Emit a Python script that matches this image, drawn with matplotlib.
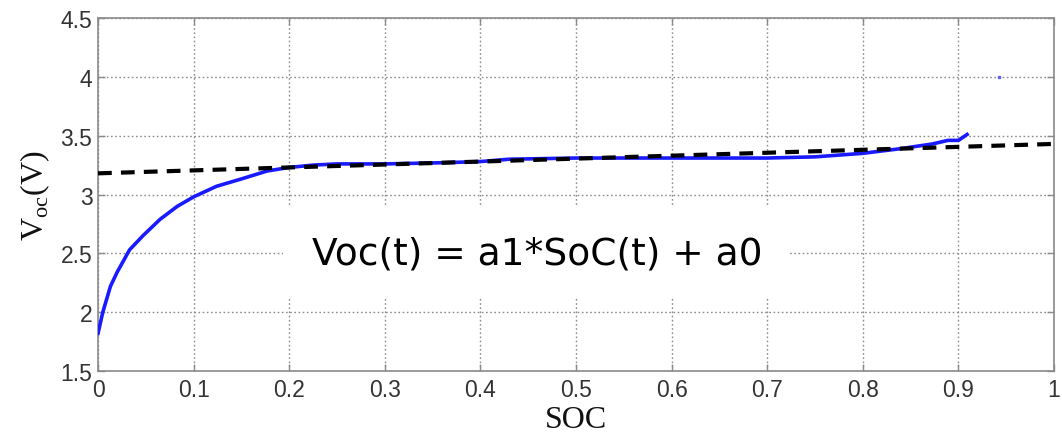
import matplotlib
matplotlib.use("Agg")
from matplotlib import pyplot as plt
import numpy as np

# measured open-circuit voltage vs state of charge
soc = [0.0, 0.005, 0.013, 0.02, 0.033, 0.047, 0.065, 0.083, 0.1, 0.124, 0.149,
       0.177, 0.2, 0.225, 0.25, 0.3, 0.36, 0.4, 0.43, 0.5, 0.56, 0.6, 0.7,
       0.75, 0.8, 0.84, 0.873, 0.889, 0.9, 0.909]
voc = [1.82, 2.0, 2.22, 2.34, 2.53, 2.65, 2.79, 2.90, 2.98, 3.07, 3.13,
       3.2, 3.23, 3.25, 3.26, 3.26, 3.27, 3.28, 3.30, 3.31, 3.31, 3.31, 3.31,
       3.32, 3.35, 3.39, 3.43, 3.46, 3.46, 3.51]

# stray point near (0.94, 4.0)
stray_soc = [0.9425]
stray_voc = [4.0]

# linear fit Voc = a1*SoC + a0
a0 = 3.18
a1 = 0.25
fit_soc = [0.0, 1.0]

xticks = [0, 0.1, 0.2, 0.3, 0.4, 0.5, 0.6, 0.7, 0.8, 0.9, 1]
xtick_labels = ["0", "0.1", "0.2", "0.3", "0.4", "0.5", "0.6", "0.7", "0.8", "0.9", "1"]
yticks = [1.5, 2, 2.5, 3, 3.5, 4, 4.5]
ytick_labels = ["1.5", "2", "2.5", "3", "3.5", "4", "4.5"]

fig = plt.figure(figsize=(10.62, 4.39), dpi=100)
ax = fig.add_axes([0.0923, 0.1526, 0.9002, 0.8041])

ax.plot(soc, voc, color="#1a1aff", linewidth=2.6, zorder=3)
ax.plot(stray_soc, stray_voc, "s", color="#6060ff", markersize=1.5, zorder=3)
fit_v = [a1 * s + a0 for s in fit_soc]
ax.plot(fit_soc, fit_v, color="black", linewidth=3, linestyle=(0, (3.3, 2.2)), zorder=4)

ax.set_xlim(0, 1)
ax.set_ylim(1.5, 4.5)
ax.set_xticks(xticks)
ax.set_xticklabels(xtick_labels)
ax.set_yticks(yticks)
ax.set_yticklabels(ytick_labels)

ax.set_axisbelow(True)
ax.grid(True, color="#8c8c8c", linestyle=(0, (1.2, 1.8)), linewidth=1.0)

for sp in ax.spines.values():
    sp.set_color("#8a8a8a")
    sp.set_linewidth(1.2)

ax.tick_params(direction="in", length=5, width=1, color="#8a8a8a",
               top=True, right=True, labelsize=16.5, labelcolor="#333333")
ax.tick_params(axis="x", pad=5)
ax.tick_params(axis="y", pad=4)
for lbl in ax.get_xticklabels() + ax.get_yticklabels():
    lbl.set_family("Liberation Sans")

ax.set_xlabel("SOC", family="Liberation Serif", fontsize=23, color="#111111", labelpad=3)
ax.set_ylabel(r"V$_{\mathregular{oc}}$(V)", family="Liberation Serif", fontsize=23,
              color="#111111", labelpad=6)

ax.text(0.459, 2.50, "Voc(t) = a1*SoC(t) + a0", fontsize=27, family="DejaVu Sans",
        ha="center", va="center", color="black", zorder=2,
        bbox=dict(facecolor="white", edgecolor="none", boxstyle="square,pad=0.75"))

fig.savefig("out.png", dpi=100)
